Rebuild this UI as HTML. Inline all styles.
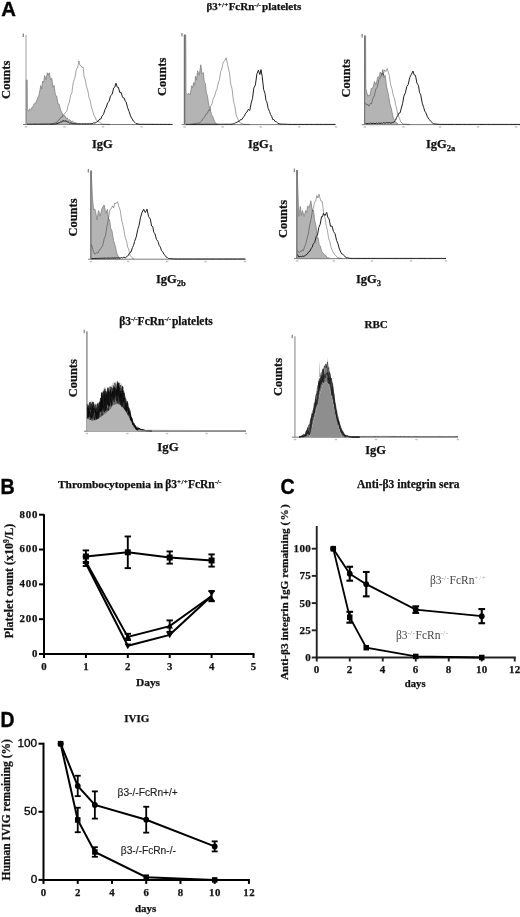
<!DOCTYPE html>
<html><head><meta charset="utf-8"><style>
html,body{margin:0;padding:0;background:#fff;}
svg{display:block;filter:blur(0.3px);}
</style></head><body>
<svg width="520" height="917" viewBox="0 0 520 917">
<rect width="520" height="917" fill="#fff"/>
<text transform="translate(1.3 15.6) scale(1.0 1)" x="0" y="0" font-family='"Liberation Sans", sans-serif' font-size="20.3" font-weight="bold" fill="#000" stroke="#000" stroke-width="0.4">A</text>
<text x="206.5" y="10.4" font-family='"Liberation Serif", serif' font-size="11" font-weight="bold" text-anchor="start" fill="#111" stroke="#111" stroke-width="0.25">β3<tspan font-size="7" dy="-3.8" letter-spacing="0.3">+/+</tspan><tspan dy="3.8">FcRn</tspan><tspan font-size="7" dy="-3.8">-/-</tspan><tspan dy="3.8" dx="1.2">platelets</tspan></text>
<line x1="26" y1="35" x2="26" y2="124.5" stroke="#c4c4c4" stroke-width="1.6"/>
<line x1="23" y1="124.5" x2="173" y2="124.5" stroke="#7a7a7a" stroke-width="1"/>
<rect x="24.8" y="126.1" width="2.4" height="1.4" fill="#c0c0c0"/>
<rect x="63.3" y="126.1" width="2.4" height="1.4" fill="#c0c0c0"/>
<rect x="101.8" y="126.1" width="2.4" height="1.4" fill="#c0c0c0"/>
<rect x="140.3" y="126.1" width="2.4" height="1.4" fill="#c0c0c0"/>
<rect x="22.7" y="33.5" width="1.3" height="3.5" fill="#888"/>
<path d="M26.30,124.50 L26.30,80.00 L27.20,80.00 L27.40,109.84 L28.43,111.23 L29.46,108.93 L30.65,109.88 L31.85,107.50 L33.09,106.62 L34.34,103.53 L35.90,102.86 L37.45,98.66 L39.10,94.88 L40.75,85.52 L41.70,89.10 L42.64,81.13 L43.65,82.38 L44.65,75.50 L46.01,79.51 L47.37,72.75 L48.33,75.21 L49.29,72.78 L50.54,79.67 L51.78,78.29 L52.92,87.21 L54.07,85.35 L55.43,95.17 L56.78,96.07 L57.92,103.80 L59.05,104.05 L60.55,109.99 L62.05,113.04 L63.48,116.14 L64.92,115.56 L66.07,118.44 L67.23,117.84 L68.49,120.42 L69.76,119.60 L71.18,121.53 L72.61,121.17 L74.30,122.78 L75.98,122.87 L77.41,123.91 L78.85,123.94 L79.89,124.26 L80.00,124.30 L80.00,124.5 L26.30,124.5 Z" fill="#b4b4b4" stroke="#777" stroke-width="0.7" stroke-linejoin="round"/>
<path d="M50.00,124.30 L51.00,124.19 L52.00,124.09 L52.96,123.92 L53.91,123.19 L54.93,123.28 L55.94,122.19 L56.91,122.49 L57.88,120.62 L59.43,119.64 L60.98,117.07 L62.17,117.05 L63.36,114.62 L64.41,114.19 L65.45,112.45 L66.82,111.14 L68.19,104.92 L69.39,102.17 L70.59,95.27 L71.90,92.79 L73.21,82.59 L74.83,78.21 L76.44,68.74 L77.65,67.93 L78.87,60.99 L79.83,64.96 L80.79,65.78 L81.96,67.44 L83.14,67.11 L84.13,76.90 L85.12,79.02 L86.50,86.44 L87.89,90.95 L89.09,97.69 L90.28,100.99 L91.55,107.45 L92.83,111.53 L94.01,115.40 L95.18,117.40 L96.11,120.04 L97.04,120.22 L98.37,122.04 L99.71,122.28 L101.29,123.61 L102.87,124.14 L104.07,124.23 L105.26,124.26 L106.31,124.29 L107.35,124.32 L108.86,124.37 L110.00,124.40" fill="none" stroke="rgba(0,0,0,0.45)" stroke-width="0.8" stroke-linejoin="round"/>
<path d="M27.00,124.20 L28.33,124.19 L29.65,124.18 L31.17,124.17 L32.69,124.16 L33.85,124.15 L35.02,124.14 L36.10,124.14 L37.19,124.13 L38.73,124.12 L40.27,124.11 L41.95,124.10 L43.63,124.09 L45.21,124.07 L46.78,124.06 L48.32,124.05 L49.86,124.04 L51.41,124.03 L52.96,124.02 L54.44,124.01 L55.93,124.00 L57.02,123.66 L58.10,123.11 L59.29,122.89 L60.48,122.01 L61.59,122.21 L62.70,120.62 L64.34,121.09 L65.98,120.86 L67.07,121.75 L68.15,121.89 L69.54,123.17 L70.94,122.90 L72.36,123.53 L73.78,123.63 L75.31,123.75 L76.85,123.80 L77.82,123.80 L78.80,123.80 L80.22,123.80 L81.65,123.80 L83.27,123.80 L84.89,123.80 L86.41,123.80 L87.93,123.80 L89.42,123.80 L90.92,123.59 L92.20,123.81 L93.49,122.89 L95.02,123.04 L96.55,122.17 L98.20,121.04 L99.85,119.00 L100.88,118.99 L101.91,116.23 L103.46,114.46 L105.02,109.59 L106.35,106.97 L107.69,102.71 L109.11,101.40 L110.53,95.78 L112.12,94.37 L113.71,87.92 L114.84,87.11 L115.98,83.21 L117.22,87.16 L118.46,87.42 L119.72,92.43 L120.99,92.28 L122.62,97.46 L124.24,98.12 L125.17,101.10 L126.09,101.78 L127.63,107.78 L129.16,111.64 L130.50,115.96 L131.85,118.42 L133.37,121.07 L134.89,122.33 L136.02,123.54 L137.14,123.76 L138.66,124.04 L140.17,124.30 L141.47,124.30 L142.78,124.31 L144.13,124.31 L145.48,124.32 L146.98,124.32 L148.48,124.33 L150.10,124.33 L151.72,124.34 L152.98,124.34 L154.24,124.34 L155.62,124.35 L157.01,124.35 L158.32,124.36 L159.62,124.36 L160.93,124.37 L162.24,124.37 L163.69,124.37 L165.14,124.38 L166.40,124.38 L167.67,124.39 L168.99,124.39 L170.32,124.39 L171.60,124.40 L172.00,124.40" fill="none" stroke="#1e1e1e" stroke-width="1.0" stroke-linejoin="round"/>
<text x="92" y="148" font-family='"Liberation Serif", serif' font-size="12.5" font-weight="bold" text-anchor="start" fill="#111" stroke="#111" stroke-width="0.25">IgG</text>
<text x="9.8" y="79.8" font-family='"Liberation Serif", serif' font-size="12.5" font-weight="bold" text-anchor="middle" fill="#111" transform="rotate(-90 9.8 79.8)" stroke="#111" stroke-width="0.25">Counts</text>
<line x1="184.6" y1="34.5" x2="184.6" y2="124.6" stroke="#6e6e6e" stroke-width="1.6"/>
<line x1="181.6" y1="124.6" x2="336" y2="124.6" stroke="#7a7a7a" stroke-width="1"/>
<rect x="183.4" y="126.19999999999999" width="2.4" height="1.4" fill="#c0c0c0"/>
<rect x="221.4" y="126.19999999999999" width="2.4" height="1.4" fill="#c0c0c0"/>
<rect x="259.5" y="126.19999999999999" width="2.4" height="1.4" fill="#c0c0c0"/>
<rect x="298.1" y="126.19999999999999" width="2.4" height="1.4" fill="#c0c0c0"/>
<rect x="334.8" y="126.19999999999999" width="2.4" height="1.4" fill="#c0c0c0"/>
<rect x="181.29999999999998" y="33.0" width="1.3" height="3.5" fill="#888"/>
<path d="M185.00,124.60 L185.00,35.00 L185.80,35.00 L186.00,92.55 L187.46,94.58 L188.91,93.30 L190.26,94.95 L191.60,85.77 L192.61,87.72 L193.61,82.48 L194.58,85.24 L195.55,76.26 L196.58,79.85 L197.61,70.80 L199.21,75.16 L200.81,64.80 L202.03,73.79 L203.25,72.51 L204.28,82.09 L205.32,83.21 L206.38,92.73 L207.44,95.96 L208.79,105.26 L210.13,108.65 L211.53,114.61 L212.92,117.01 L214.45,121.27 L215.97,123.74 L217.09,124.18 L218.00,124.50 L218.00,124.6 L185.00,124.6 Z" fill="#b4b4b4" stroke="#777" stroke-width="0.7" stroke-linejoin="round"/>
<path d="M190.00,124.40 L190.94,124.27 L191.88,124.14 L193.40,123.92 L194.92,123.71 L196.04,123.84 L197.16,123.07 L198.71,123.33 L200.26,122.31 L201.61,121.04 L202.97,118.83 L204.41,117.24 L205.86,114.37 L207.27,113.48 L208.67,110.19 L209.63,110.45 L210.59,106.39 L211.94,103.90 L213.28,98.30 L214.60,96.19 L215.92,91.23 L216.87,89.62 L217.82,84.74 L219.32,79.98 L220.82,71.25 L222.00,68.19 L223.18,62.17 L224.67,60.86 L226.15,57.80 L227.79,65.48 L229.43,72.70 L230.72,84.03 L232.02,88.68 L233.46,100.81 L234.91,106.88 L236.37,115.85 L237.83,118.67 L238.79,121.38 L239.74,122.30 L240.85,123.22 L241.96,123.68 L243.52,124.21 L245.09,124.26 L246.68,124.31 L248.27,124.35 L249.70,124.39 L250.00,124.40" fill="none" stroke="rgba(0,0,0,0.45)" stroke-width="0.8" stroke-linejoin="round"/>
<path d="M186.00,124.40 L187.13,124.40 L188.26,124.39 L189.36,124.39 L190.46,124.38 L191.60,124.38 L192.73,124.37 L194.00,124.37 L195.27,124.36 L196.30,124.36 L197.34,124.35 L198.60,124.35 L199.85,124.34 L200.97,124.34 L202.08,124.33 L203.74,124.32 L205.40,124.32 L207.07,124.31 L208.74,124.30 L210.08,124.30 L211.41,124.29 L212.52,124.29 L213.62,124.28 L215.28,124.27 L216.94,124.27 L218.09,124.26 L219.25,124.26 L220.43,124.25 L221.62,124.25 L222.53,124.24 L223.44,124.24 L224.65,124.23 L225.86,124.23 L227.14,124.22 L228.42,124.22 L229.72,124.21 L231.02,124.21 L232.09,124.20 L233.16,123.83 L234.46,123.45 L235.76,122.66 L236.99,122.24 L238.21,121.52 L239.30,121.36 L240.39,119.63 L241.81,119.61 L243.24,117.17 L244.40,116.22 L245.57,113.24 L246.98,112.04 L248.39,109.32 L249.79,110.42 L251.19,103.02 L252.51,98.32 L253.82,88.16 L255.38,84.94 L256.93,73.76 L258.38,70.27 L259.84,74.52 L261.03,69.62 L262.22,76.63 L263.62,89.36 L265.02,93.53 L265.93,100.27 L266.84,101.79 L268.17,108.37 L269.50,111.44 L270.60,114.63 L271.71,116.38 L272.78,119.65 L273.85,119.53 L275.06,121.49 L276.27,121.70 L277.66,123.02 L279.05,123.77 L280.08,124.03 L281.10,124.06 L282.21,124.11 L283.32,124.15 L284.81,124.20 L286.30,124.26 L287.44,124.30 L288.59,124.35 L289.94,124.40 L291.30,124.40 L292.22,124.40 L293.14,124.40 L294.09,124.40 L295.05,124.40 L296.17,124.40 L297.29,124.40 L298.72,124.40 L300.16,124.40 L301.61,124.40 L303.06,124.40 L304.49,124.40 L305.93,124.40 L307.07,124.40 L308.21,124.40 L309.52,124.40 L310.83,124.40 L312.10,124.40 L313.38,124.40 L314.65,124.40 L315.92,124.40 L316.93,124.40 L317.93,124.40 L319.54,124.40 L321.14,124.40 L322.21,124.40 L323.27,124.40 L324.95,124.40 L326.62,124.40 L328.26,124.40 L329.90,124.40 L330.82,124.40 L331.75,124.40 L333.02,124.40 L334.28,124.40 L335.00,124.40" fill="none" stroke="#1e1e1e" stroke-width="1.0" stroke-linejoin="round"/>
<text x="248" y="148" font-family='"Liberation Serif", serif' font-size="12.5" font-weight="bold" text-anchor="start" fill="#111" stroke="#111" stroke-width="0.25">IgG<tspan font-size="8.5" dy="3">1</tspan></text>
<text x="166.2" y="76.8" font-family='"Liberation Serif", serif' font-size="12.5" font-weight="bold" text-anchor="middle" fill="#111" transform="rotate(-90 166.2 76.8)" stroke="#111" stroke-width="0.25">Counts</text>
<line x1="364.8" y1="35.5" x2="364.8" y2="124.6" stroke="#6a6a6a" stroke-width="1.6"/>
<line x1="361.8" y1="124.6" x2="520" y2="124.6" stroke="#7a7a7a" stroke-width="1"/>
<rect x="363.6" y="126.19999999999999" width="2.4" height="1.4" fill="#c0c0c0"/>
<rect x="402.2" y="126.19999999999999" width="2.4" height="1.4" fill="#c0c0c0"/>
<rect x="438.8" y="126.19999999999999" width="2.4" height="1.4" fill="#c0c0c0"/>
<rect x="476.8" y="126.19999999999999" width="2.4" height="1.4" fill="#c0c0c0"/>
<rect x="514.8" y="126.19999999999999" width="2.4" height="1.4" fill="#c0c0c0"/>
<rect x="361.5" y="34.0" width="1.3" height="3.5" fill="#888"/>
<path d="M364.80,124.60 L364.80,36.00 L365.60,36.00 L365.80,88.50 L366.50,91.04 L367.76,96.23 L369.02,94.88 L370.10,95.44 L371.17,88.64 L372.82,87.85 L374.48,81.57 L376.08,84.63 L377.68,76.97 L378.97,77.20 L380.26,72.10 L381.52,74.44 L382.78,69.45 L383.94,77.83 L385.09,75.10 L386.66,87.00 L388.22,93.71 L389.84,103.54 L391.45,109.01 L393.14,117.28 L394.83,120.80 L395.95,122.57 L397.08,123.04 L398.00,124.30 L398.00,124.6 L364.80,124.6 Z" fill="#b4b4b4" stroke="#777" stroke-width="0.7" stroke-linejoin="round"/>
<path d="M365.50,102.66 L366.60,105.21 L367.71,104.28 L368.91,106.22 L370.11,103.55 L371.51,103.72 L372.92,98.46 L374.39,95.54 L375.86,89.05 L377.36,86.94 L378.85,79.69 L380.49,77.78 L382.12,73.02 L383.26,75.51 L384.40,69.88 L385.82,71.61 L387.25,68.53 L388.29,72.05 L389.33,75.69 L390.62,84.69 L391.92,88.61 L393.18,94.91 L394.44,98.63 L395.62,104.57 L396.80,109.45 L398.15,115.56 L399.51,118.27 L400.74,121.81 L401.97,123.00 L402.93,124.02 L403.89,124.07 L405.02,124.13 L406.14,124.19 L407.81,124.28 L409.47,124.37 L410.00,124.40" fill="none" stroke="rgba(0,0,0,0.45)" stroke-width="0.8" stroke-linejoin="round"/>
<path d="M365.50,123.32 L366.90,123.68 L368.30,123.34 L369.41,123.74 L370.51,123.05 L372.08,123.47 L373.65,123.32 L375.12,123.68 L376.58,123.06 L377.49,123.87 L378.40,122.94 L379.98,123.46 L381.56,123.02 L382.59,123.47 L383.62,122.54 L385.09,123.32 L386.56,122.46 L387.90,123.03 L389.24,122.57 L390.87,123.15 L392.50,122.59 L393.60,122.41 L394.71,120.97 L395.68,120.03 L396.64,117.27 L397.72,115.72 L398.81,113.25 L400.08,112.82 L401.35,108.06 L402.63,103.37 L403.91,96.08 L405.37,92.84 L406.83,86.45 L408.26,84.34 L409.70,77.58 L411.33,74.36 L412.96,71.02 L414.20,74.93 L415.44,75.36 L416.93,83.07 L418.41,85.34 L419.57,92.68 L420.72,94.77 L422.22,103.10 L423.73,107.62 L424.78,111.16 L425.84,112.74 L427.49,116.88 L429.14,119.27 L430.81,121.41 L432.48,122.88 L433.69,123.83 L434.91,123.94 L436.52,124.08 L438.13,124.23 L439.73,124.38 L441.33,124.40 L442.81,124.40 L444.29,124.40 L445.98,124.40 L447.67,124.40 L449.31,124.40 L450.94,124.40 L452.11,124.40 L453.28,124.40 L454.33,124.40 L455.39,124.40 L457.03,124.40 L458.67,124.40 L460.16,124.40 L461.65,124.40 L462.59,124.40 L463.52,124.40 L464.95,124.40 L466.38,124.40 L467.58,124.40 L468.79,124.40 L469.99,124.40 L471.19,124.40 L472.36,124.40 L473.53,124.40 L474.57,124.40 L475.61,124.40 L476.52,124.40 L477.44,124.40 L478.56,124.40 L479.69,124.40 L480.88,124.40 L482.06,124.40 L483.72,124.40 L485.37,124.40 L486.38,124.40 L487.38,124.40 L489.05,124.40 L490.71,124.40 L491.78,124.40 L492.85,124.40 L494.04,124.40 L495.23,124.40 L496.78,124.40 L498.33,124.40 L499.88,124.40 L501.43,124.40 L502.68,124.40 L503.93,124.40 L504.88,124.40 L505.82,124.40 L507.10,124.40 L508.38,124.40 L509.58,124.40 L510.78,124.40 L512.41,124.40 L514.04,124.40 L515.10,124.40 L516.16,124.40 L517.35,124.40 L518.55,124.40 L520.00,124.40" fill="none" stroke="#1e1e1e" stroke-width="1.0" stroke-linejoin="round"/>
<text x="426" y="148" font-family='"Liberation Serif", serif' font-size="12.5" font-weight="bold" text-anchor="start" fill="#111" stroke="#111" stroke-width="0.25">IgG<tspan font-size="8.5" dy="3">2a</tspan></text>
<text x="350" y="78.3" font-family='"Liberation Serif", serif' font-size="12.5" font-weight="bold" text-anchor="middle" fill="#111" transform="rotate(-90 350 78.3)" stroke="#111" stroke-width="0.25">Counts</text>
<line x1="91" y1="170.4" x2="91" y2="259.2" stroke="#6e6e6e" stroke-width="1.6"/>
<line x1="88" y1="259.2" x2="246" y2="259.2" stroke="#7a7a7a" stroke-width="1"/>
<rect x="89.8" y="260.8" width="2.4" height="1.4" fill="#c0c0c0"/>
<rect x="127.10000000000001" y="260.8" width="2.4" height="1.4" fill="#c0c0c0"/>
<rect x="166.0" y="260.8" width="2.4" height="1.4" fill="#c0c0c0"/>
<rect x="204.3" y="260.8" width="2.4" height="1.4" fill="#c0c0c0"/>
<rect x="243.8" y="260.8" width="2.4" height="1.4" fill="#c0c0c0"/>
<rect x="87.7" y="168.9" width="1.3" height="3.5" fill="#888"/>
<path d="M91.20,259.20 L91.20,170.99 L92.43,197.31 L93.66,210.11 L94.60,208.92 L95.54,211.21 L97.03,219.87 L98.52,210.45 L100.18,216.20 L101.83,209.12 L102.99,206.62 L104.15,205.04 L105.77,213.34 L107.40,209.35 L108.49,218.94 L109.58,219.60 L110.79,228.43 L112.01,231.05 L113.64,240.64 L115.27,246.02 L116.83,253.40 L118.38,256.52 L119.54,258.34 L120.00,259.00 L120.00,259.2 L91.20,259.2 Z" fill="#b4b4b4" stroke="#777" stroke-width="0.7" stroke-linejoin="round"/>
<path d="M91.50,244.67 L93.02,250.00 L94.54,254.00 L95.64,253.73 L96.75,252.63 L97.91,253.15 L99.07,250.27 L100.19,249.54 L101.31,247.59 L102.77,245.46 L104.23,238.57 L105.63,235.17 L107.02,226.10 L108.45,218.76 L109.88,209.59 L111.23,208.74 L112.58,205.83 L113.69,207.84 L114.79,203.20 L116.15,203.51 L117.51,201.71 L118.82,206.40 L120.12,209.94 L121.81,220.68 L123.49,227.70 L125.05,236.85 L126.62,241.47 L127.62,246.65 L128.63,249.18 L130.26,255.58 L131.90,257.48 L133.01,258.36 L134.00,259.00" fill="none" stroke="rgba(0,0,0,0.45)" stroke-width="0.8" stroke-linejoin="round"/>
<path d="M91.50,258.60 L93.02,258.55 L94.53,258.50 L96.18,258.45 L97.83,258.40 L98.82,258.37 L99.81,258.34 L101.19,258.30 L102.56,258.25 L103.96,258.21 L105.35,258.09 L106.55,258.28 L107.75,258.00 L109.12,258.24 L110.50,258.00 L111.67,258.15 L112.83,257.82 L113.90,258.31 L114.97,257.84 L115.96,258.22 L116.95,257.57 L117.93,258.23 L118.91,257.59 L120.04,258.34 L121.17,257.56 L122.52,257.94 L123.87,257.27 L125.56,257.72 L127.25,256.16 L128.32,255.52 L129.39,253.18 L130.94,252.01 L132.49,247.59 L133.52,245.48 L134.56,241.60 L136.18,237.07 L137.80,229.32 L139.10,225.26 L140.41,217.83 L142.04,212.34 L143.67,209.27 L145.33,212.55 L147.00,209.16 L148.67,216.74 L150.34,218.99 L151.55,225.95 L152.77,226.65 L153.80,232.54 L154.84,233.33 L156.41,239.23 L157.98,241.55 L159.20,245.44 L160.42,247.17 L161.52,250.75 L162.63,251.58 L163.97,254.42 L165.32,255.58 L166.32,257.29 L167.33,257.54 L168.48,258.44 L169.62,258.54 L170.86,258.65 L172.10,258.75 L173.46,258.87 L174.83,258.99 L176.07,259.00 L177.31,259.00 L178.74,259.00 L180.16,259.00 L181.42,259.00 L182.68,259.00 L183.93,259.00 L185.18,259.00 L186.11,259.00 L187.04,259.00 L188.43,259.00 L189.82,259.00 L191.11,259.00 L192.41,259.00 L193.50,259.00 L194.59,259.00 L196.10,259.00 L197.60,259.00 L199.12,259.00 L200.64,259.00 L201.91,259.00 L203.18,259.00 L204.23,259.00 L205.28,259.00 L206.56,259.00 L207.83,259.00 L208.83,259.00 L209.82,259.00 L210.83,259.00 L211.84,259.00 L213.09,259.00 L214.33,259.00 L215.32,259.00 L216.30,259.00 L217.55,259.00 L218.81,259.00 L220.11,259.00 L221.42,259.00 L222.36,259.00 L223.31,259.00 L224.71,259.00 L226.12,259.00 L227.09,259.00 L228.07,259.00 L229.55,259.00 L231.03,259.00 L232.55,259.00 L234.06,259.00 L235.37,259.00 L236.68,259.00 L237.63,259.00 L238.59,259.00 L239.89,259.00 L241.19,259.00 L242.40,259.00 L243.60,259.00 L245.00,259.00" fill="none" stroke="#1e1e1e" stroke-width="1.0" stroke-linejoin="round"/>
<text x="156" y="283" font-family='"Liberation Serif", serif' font-size="12.5" font-weight="bold" text-anchor="start" fill="#111" stroke="#111" stroke-width="0.25">IgG<tspan font-size="8.5" dy="3">2b</tspan></text>
<text x="77.3" y="217.5" font-family='"Liberation Serif", serif' font-size="12.5" font-weight="bold" text-anchor="middle" fill="#111" transform="rotate(-90 77.3 217.5)" stroke="#111" stroke-width="0.25">Counts</text>
<line x1="297" y1="170" x2="297" y2="258.6" stroke="#6e6e6e" stroke-width="1.6"/>
<line x1="294" y1="258.6" x2="446" y2="258.6" stroke="#7a7a7a" stroke-width="1"/>
<rect x="295.8" y="260.20000000000005" width="2.4" height="1.4" fill="#c0c0c0"/>
<rect x="332.6" y="260.20000000000005" width="2.4" height="1.4" fill="#c0c0c0"/>
<rect x="370.8" y="260.20000000000005" width="2.4" height="1.4" fill="#c0c0c0"/>
<rect x="409.8" y="260.20000000000005" width="2.4" height="1.4" fill="#c0c0c0"/>
<rect x="444.8" y="260.20000000000005" width="2.4" height="1.4" fill="#c0c0c0"/>
<rect x="293.7" y="168.5" width="1.3" height="3.5" fill="#888"/>
<path d="M297.20,258.60 L297.20,170.43 L298.78,216.37 L300.36,206.39 L301.42,215.47 L302.48,210.57 L304.10,216.43 L305.73,210.36 L306.69,212.71 L307.65,206.09 L309.26,207.41 L310.87,200.83 L312.17,210.35 L313.47,210.14 L314.78,220.93 L316.08,226.32 L317.12,237.24 L318.15,237.70 L319.20,244.93 L320.24,245.86 L321.64,251.67 L323.05,252.78 L324.41,255.03 L325.77,255.30 L327.18,257.85 L328.58,257.79 L329.69,258.35 L330.00,258.50 L330.00,258.6 L297.20,258.6 Z" fill="#b4b4b4" stroke="#777" stroke-width="0.7" stroke-linejoin="round"/>
<path d="M297.50,250.44 L298.86,252.75 L300.22,251.45 L301.27,251.44 L302.32,249.90 L303.42,250.59 L304.53,246.82 L305.96,243.45 L307.39,237.38 L308.41,233.72 L309.44,226.23 L311.05,219.23 L312.66,209.73 L313.58,207.10 L314.51,202.28 L315.70,201.05 L316.89,195.52 L317.96,198.02 L319.03,194.21 L320.67,200.55 L322.31,201.52 L323.72,214.27 L325.12,218.27 L326.24,225.72 L327.36,230.26 L328.54,237.82 L329.72,241.38 L331.21,247.73 L332.69,251.32 L334.01,253.85 L335.34,254.96 L336.85,257.11 L338.37,257.81 L340.02,258.08 L341.66,258.34 L342.00,258.40" fill="none" stroke="rgba(0,0,0,0.45)" stroke-width="0.8" stroke-linejoin="round"/>
<path d="M297.50,254.53 L298.88,257.05 L300.27,256.43 L301.31,256.72 L302.36,256.17 L303.96,256.39 L305.57,255.23 L307.14,254.27 L308.71,251.83 L309.97,251.18 L311.23,248.23 L312.17,247.38 L313.11,244.26 L314.68,242.52 L316.25,236.40 L317.50,234.96 L318.75,227.53 L320.16,224.38 L321.57,216.53 L322.49,216.71 L323.42,213.23 L325.06,215.56 L326.71,212.40 L327.88,217.66 L329.04,218.57 L330.49,226.32 L331.94,226.04 L333.51,231.53 L335.07,233.78 L336.55,240.31 L338.02,243.90 L339.42,249.00 L340.82,252.26 L341.75,253.98 L342.68,254.09 L343.70,255.37 L344.72,256.05 L346.12,257.75 L347.53,257.65 L348.49,257.94 L349.45,258.23 L350.82,258.40 L352.19,258.40 L353.38,258.40 L354.58,258.40 L356.13,258.40 L357.67,258.40 L359.22,258.40 L360.77,258.40 L362.38,258.40 L363.98,258.40 L364.94,258.40 L365.91,258.40 L367.49,258.40 L369.08,258.40 L370.70,258.40 L372.33,258.40 L373.97,258.40 L375.62,258.40 L376.61,258.40 L377.61,258.40 L378.68,258.40 L379.75,258.40 L380.74,258.40 L381.74,258.40 L382.68,258.40 L383.61,258.40 L385.19,258.40 L386.76,258.40 L388.30,258.40 L389.84,258.40 L391.25,258.40 L392.65,258.40 L394.21,258.40 L395.76,258.40 L397.16,258.40 L398.57,258.40 L399.70,258.40 L400.83,258.40 L401.82,258.40 L402.81,258.40 L403.80,258.40 L404.78,258.40 L406.28,258.40 L407.78,258.40 L408.85,258.40 L409.92,258.40 L411.08,258.40 L412.24,258.40 L413.48,258.40 L414.72,258.40 L415.65,258.40 L416.58,258.40 L417.69,258.40 L418.80,258.40 L419.93,258.40 L421.06,258.40 L422.52,258.40 L423.99,258.40 L425.19,258.40 L426.39,258.40 L427.55,258.40 L428.71,258.40 L430.37,258.40 L432.03,258.40 L433.33,258.40 L434.64,258.40 L436.21,258.40 L437.79,258.40 L439.18,258.40 L440.57,258.40 L441.50,258.40 L442.44,258.40 L443.67,258.40 L444.90,258.40 L446.00,258.40" fill="none" stroke="#1e1e1e" stroke-width="1.0" stroke-linejoin="round"/>
<text x="356" y="283" font-family='"Liberation Serif", serif' font-size="12.5" font-weight="bold" text-anchor="start" fill="#111" stroke="#111" stroke-width="0.25">IgG<tspan font-size="8.5" dy="3">3</tspan></text>
<text x="286.5" y="219" font-family='"Liberation Serif", serif' font-size="12.5" font-weight="bold" text-anchor="middle" fill="#111" transform="rotate(-90 286.5 219)" stroke="#111" stroke-width="0.25">Counts</text>
<text x="119.2" y="325" font-family='"Liberation Serif", serif' font-size="11.5" font-weight="bold" text-anchor="start" fill="#111" stroke="#111" stroke-width="0.25">β3<tspan font-size="7" dy="-3.8">-/-</tspan><tspan dy="3.8">FcRn</tspan><tspan font-size="7" dy="-3.8">-/-</tspan><tspan dy="3.8" dx="0.8">platelets</tspan></text>
<line x1="86.9" y1="331.2" x2="86.9" y2="431.2" stroke="#9a9a9a" stroke-width="1.6"/>
<line x1="83.9" y1="431.2" x2="246" y2="431.2" stroke="#7a7a7a" stroke-width="1"/>
<rect x="85.7" y="432.8" width="2.4" height="1.4" fill="#c0c0c0"/>
<rect x="126.2" y="432.8" width="2.4" height="1.4" fill="#c0c0c0"/>
<rect x="165.8" y="432.8" width="2.4" height="1.4" fill="#c0c0c0"/>
<rect x="205.3" y="432.8" width="2.4" height="1.4" fill="#c0c0c0"/>
<rect x="244.8" y="432.8" width="2.4" height="1.4" fill="#c0c0c0"/>
<rect x="83.60000000000001" y="329.7" width="1.3" height="3.5" fill="#888"/>
<path d="M87.30,431.20 L87.30,419.00 L92.00,421.00 L96.50,420.00 L100.00,418.00 L105.00,414.00 L110.00,410.00 L113.00,405.50 L117.00,404.00 L120.00,405.00 L124.00,409.00 L128.00,416.00 L132.00,423.50 L135.00,429.00 L138.00,431.00 L138.00,431.20 L138.00,431.2 L87.30,431.2 Z" fill="#b4b4b4" stroke="none" stroke-width="0.7" stroke-linejoin="round"/>
<path d="M87.30,401.88 L87.89,410.62 L88.48,402.42 L89.27,407.93 L90.06,401.67 L90.52,407.70 L90.97,399.49 L91.43,407.83 L91.89,399.39 L92.41,407.37 L92.94,400.01 L93.50,410.16 L94.05,402.19 L94.78,408.15 L95.51,402.47 L96.00,412.39 L96.48,402.93 L97.18,408.88 L97.88,401.95 L98.69,407.49 L99.49,400.62 L100.02,406.84 L100.56,396.42 L101.16,403.94 L101.76,391.05 L102.43,400.77 L103.09,387.62 L103.68,394.69 L104.27,386.27 L104.98,397.02 L105.70,386.38 L106.45,395.48 L107.21,386.33 L108.01,393.09 L108.81,386.67 L109.54,397.27 L110.27,385.57 L110.82,393.08 L111.37,384.11 L111.96,392.23 L112.54,381.38 L113.03,394.76 L113.53,381.55 L114.37,395.11 L115.21,380.75 L115.74,391.15 L116.27,381.07 L116.87,386.92 L117.48,379.84 L118.21,391.79 L118.93,380.53 L119.44,392.17 L119.95,380.67 L120.76,392.12 L121.57,381.90 L122.19,392.33 L122.81,384.61 L123.57,400.28 L124.32,390.01 L125.03,400.61 L125.73,394.67 L126.23,405.30 L126.72,397.66 L127.42,406.42 L128.12,402.85 L128.82,412.32 L129.52,406.86 L130.04,417.31 L130.57,411.77 L131.21,419.01 L131.86,416.00 L132.38,424.85 L132.90,419.70 L133.39,425.31 L133.88,421.23 L134.54,428.27 L135.19,424.21 L135.81,428.37 L136.42,425.46 L137.03,428.52 L137.64,425.59 L138.23,429.26 L138.83,427.57 L139.29,430.54 L139.75,427.52 L140.34,430.37 L140.93,427.97 L141.75,430.74 L142.58,428.24 L143.18,430.65 L143.79,430.21 L144.55,430.39 L145.31,430.52 L146.08,430.56 L146.85,430.61 L147.55,430.65 L148.25,430.69 L148.89,430.72 L149.53,430.76 L150.20,430.80 L150.88,430.84 L151.42,430.87 L151.96,430.90 L152.00,430.90 L152.00,430.90 L151.96,430.90 L151.42,430.87 L150.88,430.84 L150.20,430.80 L149.53,430.76 L148.89,430.72 L148.25,430.69 L147.55,430.65 L146.85,430.61 L146.08,430.56 L145.31,430.52 L144.55,430.39 L143.79,430.21 L143.18,430.65 L142.58,428.24 L141.75,430.74 L140.93,427.97 L140.34,430.37 L139.75,427.52 L139.29,430.54 L138.83,427.57 L138.23,429.26 L137.64,430.76 L137.03,430.35 L136.42,429.95 L135.81,429.54 L135.19,429.13 L134.54,428.27 L133.88,426.96 L133.39,426.05 L132.90,425.14 L132.38,424.85 L131.86,423.24 L131.21,422.03 L130.57,420.82 L130.04,419.83 L129.52,418.84 L128.82,417.53 L128.12,416.23 L127.42,414.99 L126.72,413.76 L126.23,412.90 L125.73,412.03 L125.03,410.80 L124.32,409.57 L123.57,408.57 L122.81,407.81 L122.19,407.19 L121.57,406.57 L120.76,405.76 L119.95,404.98 L119.44,404.81 L118.93,404.64 L118.21,404.40 L117.48,404.16 L116.87,404.05 L116.27,404.27 L115.74,404.47 L115.21,404.67 L114.37,404.99 L113.53,405.30 L113.03,405.49 L112.54,406.19 L111.96,407.07 L111.37,407.94 L110.82,408.77 L110.27,409.60 L109.54,410.37 L108.81,410.95 L108.01,411.59 L107.21,412.23 L106.45,412.84 L105.70,413.44 L104.98,414.01 L104.27,414.58 L103.68,415.06 L103.09,415.53 L102.43,416.06 L101.76,416.59 L101.16,417.07 L100.56,417.55 L100.02,417.98 L99.49,418.29 L98.69,418.75 L97.88,419.21 L97.18,419.61 L96.48,420.00 L96.00,420.11 L95.51,420.22 L94.78,420.38 L94.05,420.54 L93.50,420.67 L92.94,420.79 L92.41,420.91 L91.89,420.95 L91.43,420.76 L90.97,420.56 L90.52,420.37 L90.06,420.18 L89.27,419.84 L88.48,419.50 L87.89,419.25 L87.30,419.00 Z" fill="#6a6a6a" stroke="none"/>
<path d="M87.30,408.97 L88.19,416.41 L89.19,410.60 L89.86,411.98 L90.42,417.25 L91.13,417.77 L91.78,408.56 L92.42,409.68 L93.02,401.87 L93.96,407.63 L94.60,408.31 L95.38,410.80 L96.27,414.72 L96.98,418.60 L98.01,403.56 L99.02,416.93 L100.00,402.52 L101.02,409.20 L101.50,393.47 L102.59,406.79 L103.23,391.55 L103.81,394.61 L104.78,396.83 L105.36,411.18 L106.35,391.60 L107.40,402.38 L108.38,403.34 L109.43,405.49 L110.45,390.33 L111.37,396.92 L112.32,393.42 L113.37,395.16 L114.02,387.53 L114.59,393.25 L115.10,392.45 L115.68,392.80 L116.48,393.75 L117.51,381.65 L118.53,392.27 L119.37,397.09 L120.38,391.12 L121.13,405.23 L121.66,398.27 L122.55,386.23 L123.42,402.08 L124.49,397.90 L125.60,403.86 L126.39,411.64 L126.89,410.02 L127.77,406.98 L128.81,410.38 L129.59,414.28 L130.56,414.30 L131.32,418.19 L132.16,422.81 L132.82,424.24 L133.56,424.25 L134.22,425.50 L135.32,427.95 L136.31,427.83 L136.99,428.17 L137.84,429.76 L138.83,428.41 L139.77,429.00 L140.60,429.45 L141.27,429.61 L141.87,429.75 L142.74,429.96 L143.73,430.20 L144.60,430.40 L145.48,430.53 L146.34,430.58 L146.96,430.61 L147.73,430.66 L148.27,430.69 L148.78,430.72 L149.84,430.78 L150.56,430.82 L151.54,430.87" fill="none" stroke="#0a0a0a" stroke-width="0.65" opacity="0.85" stroke-linejoin="round"/>
<path d="M87.30,408.18 L88.05,408.27 L88.81,413.57 L89.88,403.11 L90.73,402.42 L91.28,417.03 L92.13,419.35 L92.90,401.99 L93.62,413.16 L94.70,420.07 L95.49,410.57 L96.03,414.46 L96.65,406.76 L97.14,403.84 L98.06,404.57 L99.16,402.64 L100.19,401.54 L100.68,411.69 L101.32,410.84 L101.92,392.58 L102.89,408.08 L103.92,407.69 L104.46,404.58 L105.39,399.45 L106.47,393.79 L107.56,404.98 L108.05,387.66 L108.95,406.54 L109.48,394.24 L110.42,389.62 L111.46,395.75 L111.97,392.25 L112.82,392.79 L113.74,385.60 L114.73,390.21 L115.62,395.99 L116.37,390.27 L117.35,402.87 L118.33,394.50 L119.00,382.90 L120.10,398.35 L121.11,390.75 L121.98,406.46 L122.99,399.64 L123.67,397.59 L124.72,399.33 L125.64,405.42 L126.69,410.89 L127.35,401.20 L128.00,408.70 L128.85,415.55 L129.90,410.59 L130.92,420.02 L131.95,420.86 L132.61,423.89 L133.60,425.09 L134.67,425.70 L135.20,427.43 L136.19,427.36 L137.15,430.22 L137.78,429.63 L138.70,428.33 L139.31,428.71 L140.27,429.32 L141.04,429.55 L142.04,429.79 L142.67,429.94 L143.72,430.19 L144.54,430.39 L145.39,430.52 L146.00,430.56 L146.92,430.61 L147.77,430.66 L148.58,430.70 L149.09,430.73 L149.80,430.77 L150.69,430.83 L151.27,430.86 L151.97,430.90" fill="none" stroke="#0a0a0a" stroke-width="0.65" opacity="0.85" stroke-linejoin="round"/>
<path d="M87.30,404.02 L88.41,417.26 L89.21,412.31 L89.85,416.12 L90.61,419.41 L91.58,417.27 L92.67,406.44 L93.18,405.72 L93.77,403.94 L94.29,412.67 L95.32,411.27 L96.41,418.62 L96.93,413.44 L97.66,405.02 L98.76,406.02 L99.60,411.87 L100.69,410.65 L101.42,404.01 L102.01,415.52 L103.12,394.84 L103.62,395.34 L104.33,411.95 L105.39,409.39 L105.90,407.73 L106.83,403.62 L107.94,388.66 L108.52,405.33 L109.60,402.71 L110.27,399.91 L111.23,387.11 L111.92,389.74 L112.48,394.20 L113.07,388.01 L113.64,397.86 L114.13,398.58 L114.73,382.69 L115.81,386.56 L116.88,401.04 L117.93,384.69 L118.70,383.74 L119.77,401.32 L120.66,393.12 L121.35,402.28 L122.14,398.63 L122.71,390.92 L123.23,402.39 L124.06,393.25 L125.10,398.48 L125.84,398.81 L126.50,410.97 L127.19,403.00 L127.98,407.34 L129.04,408.35 L130.15,411.59 L131.20,419.62 L131.82,419.93 L132.48,420.62 L133.09,422.75 L134.20,427.53 L135.27,425.83 L135.94,429.31 L136.46,429.13 L137.12,430.35 L137.61,430.15 L138.31,428.08 L138.79,428.39 L139.61,428.90 L140.37,429.38 L140.99,429.54 L141.56,429.68 L142.53,429.91 L143.14,430.05 L143.67,430.18 L144.47,430.37 L145.08,430.50 L146.01,430.56 L146.87,430.61 L147.39,430.64 L148.13,430.68 L148.65,430.71 L149.34,430.75 L150.37,430.81 L150.86,430.84 L151.65,430.88" fill="none" stroke="#0a0a0a" stroke-width="0.65" opacity="0.85" stroke-linejoin="round"/>
<path d="M87.30,406.38 L88.31,409.01 L88.90,408.97 L89.76,402.28 L90.57,410.07 L91.38,403.67 L92.32,417.32 L93.35,408.06 L94.29,409.57 L95.25,404.62 L96.29,419.33 L97.08,411.96 L97.90,411.59 L98.40,418.37 L99.02,404.44 L99.56,405.00 L100.57,398.04 L101.11,410.45 L101.71,392.68 L102.58,404.69 L103.39,407.39 L103.94,411.39 L104.88,388.76 L105.44,400.31 L106.24,394.49 L106.79,397.55 L107.36,401.98 L108.39,390.83 L109.24,404.69 L109.82,406.02 L110.91,394.23 L111.65,403.76 L112.47,392.22 L113.55,400.17 L114.25,387.58 L114.94,391.79 L116.05,399.88 L117.12,399.87 L118.14,382.73 L118.95,403.67 L120.03,387.96 L120.78,397.36 L121.49,395.66 L122.02,393.88 L122.82,386.93 L123.39,407.78 L124.36,408.50 L125.25,407.99 L126.30,411.26 L126.80,408.70 L127.45,410.68 L128.10,410.50 L129.17,414.18 L129.82,414.84 L130.57,420.42 L131.24,417.12 L132.13,418.77 L132.99,425.13 L133.80,423.71 L134.58,426.30 L135.15,425.71 L135.72,427.26 L136.46,427.80 L137.09,427.59 L137.92,430.45 L138.79,428.39 L139.69,428.95 L140.62,429.45 L141.46,429.65 L142.24,429.84 L142.87,429.99 L143.68,430.18 L144.53,430.39 L145.24,430.51 L145.87,430.55 L146.67,430.60 L147.78,430.66 L148.75,430.71 L149.28,430.74 L150.04,430.79 L150.77,430.83 L151.72,430.88" fill="none" stroke="#0a0a0a" stroke-width="0.65" opacity="0.85" stroke-linejoin="round"/>
<path d="M87.30,418.37 L88.25,405.53 L88.95,408.64 L89.86,413.20 L90.88,417.14 L91.70,415.72 L92.65,416.21 L93.44,416.70 L94.37,418.97 L94.93,418.15 L95.41,416.37 L96.27,412.20 L97.36,412.64 L98.11,415.49 L99.15,411.67 L99.87,408.26 L100.65,411.83 L101.31,403.00 L102.15,400.28 L102.84,410.08 L103.86,401.63 L104.62,392.65 L105.30,391.14 L106.15,402.29 L106.68,410.63 L107.37,408.22 L108.39,410.30 L109.00,397.32 L110.06,386.42 L110.57,398.86 L111.37,406.07 L112.34,395.72 L113.46,394.26 L114.27,397.79 L115.00,389.98 L115.86,389.55 L116.95,396.73 L117.77,383.75 L118.49,390.72 L119.33,394.97 L120.37,404.56 L121.16,393.28 L122.04,406.95 L122.74,397.63 L123.74,392.80 L124.42,409.36 L125.43,403.48 L125.98,410.82 L126.91,411.51 L128.02,414.63 L128.77,407.90 L129.43,413.72 L130.24,413.05 L130.83,418.43 L131.70,418.82 L132.82,423.36 L133.32,423.40 L134.31,424.84 L135.23,425.39 L135.90,429.12 L136.76,429.15 L137.37,429.03 L138.20,428.01 L139.09,428.58 L140.21,429.28 L140.95,429.53 L141.54,429.67 L142.08,429.80 L142.67,429.94 L143.68,430.18 L144.68,430.42 L145.16,430.51 L145.85,430.55 L146.56,430.59 L147.21,430.63 L148.27,430.69 L148.97,430.73 L149.70,430.77 L150.75,430.83 L151.84,430.89" fill="none" stroke="#0a0a0a" stroke-width="0.65" opacity="0.85" stroke-linejoin="round"/>
<path d="M87.30,407.36 L87.81,418.11 L88.84,408.03 L89.89,416.79 L90.56,412.99 L91.66,410.93 L92.75,406.27 L93.48,415.47 L94.10,408.20 L95.14,411.64 L96.13,408.14 L96.72,409.89 L97.32,419.08 L97.98,411.92 L98.54,410.95 L99.26,408.01 L99.78,402.48 L100.79,403.77 L101.43,397.99 L102.09,396.66 L102.59,407.01 L103.29,392.95 L104.22,390.53 L104.88,409.72 L105.44,398.98 L106.45,407.86 L107.04,396.15 L107.98,396.47 L109.07,392.18 L110.16,398.01 L110.79,395.90 L111.35,401.08 L112.00,404.66 L112.85,391.13 L113.49,396.33 L114.11,402.15 L114.66,393.68 L115.49,387.77 L116.47,390.24 L117.37,394.34 L118.04,390.41 L118.58,385.58 L119.60,389.32 L120.51,385.15 L121.35,391.63 L122.15,391.08 L122.67,392.75 L123.30,390.61 L124.23,396.30 L124.97,409.14 L125.95,410.57 L126.98,401.87 L127.64,402.49 L128.55,413.11 L129.26,412.20 L130.16,417.36 L130.80,420.04 L131.50,420.09 L132.10,418.64 L133.16,424.49 L134.10,423.33 L134.60,424.82 L135.21,426.49 L135.94,426.70 L136.61,428.97 L137.21,429.98 L138.05,427.92 L138.70,428.33 L139.62,428.91 L140.10,429.21 L141.07,429.56 L141.58,429.68 L142.45,429.89 L143.09,430.04 L144.07,430.28 L145.14,430.51 L145.67,430.54 L146.40,430.58 L147.41,430.64 L147.95,430.67 L148.70,430.71 L149.63,430.76 L150.64,430.82 L151.41,430.87" fill="none" stroke="#0a0a0a" stroke-width="0.65" opacity="0.85" stroke-linejoin="round"/>
<line x1="138" y1="431.0" x2="246" y2="431.0" stroke="#777" stroke-width="1"/>
<path d="M136.00,430.50 L137.20,430.47 L138.39,430.45 L139.65,430.42 L140.91,430.39 L142.48,430.36 L144.05,430.33 L145.02,430.31 L145.99,430.29 L147.44,430.25 L148.89,430.22 L149.79,430.20 L150.70,430.21 L152.10,430.22 L153.51,430.24 L154.99,430.25 L156.47,430.26 L157.54,430.28 L158.61,430.29 L159.89,430.30 L161.18,430.31 L162.78,430.33 L164.38,430.34 L165.73,430.36 L167.09,430.37 L168.37,430.38 L169.65,430.40 L170.72,430.40 L171.78,430.41 L172.70,430.41 L173.62,430.41 L174.76,430.42 L175.90,430.42 L177.09,430.42 L178.27,430.43 L179.30,430.43 L180.32,430.43 L181.43,430.44 L182.54,430.44 L183.52,430.45 L184.49,430.45 L185.90,430.45 L187.30,430.46 L188.68,430.46 L190.06,430.47 L191.11,430.47 L192.17,430.47 L193.22,430.48 L194.28,430.48 L195.54,430.49 L196.80,430.49 L198.01,430.49 L199.22,430.50 L200.80,430.50 L202.37,430.50 L203.51,430.50 L204.65,430.50 L205.75,430.50 L206.85,430.50 L208.39,430.50 L209.93,430.50 L210.91,430.50 L211.89,430.50 L213.19,430.50 L214.48,430.50 L215.61,430.50 L216.73,430.50 L218.22,430.50 L219.71,430.50 L220.99,430.50 L222.28,430.50 L223.73,430.50 L225.17,430.50 L226.17,430.50 L227.17,430.50 L228.55,430.50 L229.92,430.50 L231.25,430.50 L232.57,430.50 L233.79,430.50 L235.01,430.50 L236.46,430.50 L237.91,430.50 L239.41,430.50 L240.91,430.50 L241.87,430.50 L242.83,430.50 L243.92,430.50 L245.02,430.50 L246.00,430.50" fill="none" stroke="#999" stroke-width="0.6" stroke-linejoin="round"/>
<text x="157.3" y="450.6" font-family='"Liberation Serif", serif' font-size="12.8" font-weight="bold" text-anchor="start" fill="#111" stroke="#111" stroke-width="0.25">IgG</text>
<text x="77.2" y="378.2" font-family='"Liberation Serif", serif' font-size="12.5" font-weight="bold" text-anchor="middle" fill="#111" transform="rotate(-90 77.2 378.2)" stroke="#111" stroke-width="0.25">Counts</text>
<text x="364.5" y="328" font-family='"Liberation Serif", serif' font-size="11" font-weight="bold" text-anchor="start" fill="#111" stroke="#111" stroke-width="0.25">RBC</text>
<line x1="294.9" y1="336.2" x2="294.9" y2="437.2" stroke="#b0b0b0" stroke-width="1.6"/>
<line x1="291.9" y1="437.2" x2="458" y2="437.2" stroke="#7a7a7a" stroke-width="1"/>
<rect x="293.7" y="438.8" width="2.4" height="1.4" fill="#c0c0c0"/>
<rect x="334.8" y="438.8" width="2.4" height="1.4" fill="#c0c0c0"/>
<rect x="374.8" y="438.8" width="2.4" height="1.4" fill="#c0c0c0"/>
<rect x="415.3" y="438.8" width="2.4" height="1.4" fill="#c0c0c0"/>
<rect x="456.8" y="438.8" width="2.4" height="1.4" fill="#c0c0c0"/>
<rect x="291.59999999999997" y="334.7" width="1.3" height="3.5" fill="#888"/>
<path d="M299.20,437.00 L299.78,436.72 L300.35,436.44 L300.87,436.53 L301.38,435.31 L302.06,436.15 L302.74,434.87 L303.38,435.16 L304.03,434.66 L304.93,434.55 L305.84,431.62 L306.74,430.73 L307.64,427.65 L308.31,427.72 L308.99,424.98 L309.86,424.20 L310.74,418.07 L311.50,417.08 L312.27,412.76 L312.77,413.94 L313.27,408.45 L313.84,409.14 L314.41,402.47 L314.97,404.37 L315.53,397.30 L316.16,397.48 L316.78,391.04 L317.43,391.03 L318.07,383.46 L318.66,384.01 L319.25,378.84 L320.09,381.50 L320.92,373.26 L321.62,375.91 L322.32,370.30 L323.05,372.07 L323.79,367.48 L324.46,371.97 L325.14,365.24 L325.81,367.91 L326.49,363.32 L327.33,368.68 L328.17,365.40 L328.78,373.71 L329.39,371.09 L330.02,377.75 L330.66,375.12 L331.53,381.31 L332.39,383.24 L333.12,390.03 L333.85,392.96 L334.47,401.32 L335.10,401.71 L335.95,410.86 L336.81,410.93 L337.64,416.89 L338.47,418.52 L339.08,424.08 L339.70,423.52 L340.46,427.59 L341.22,428.53 L341.72,431.47 L342.22,430.54 L342.75,432.60 L343.28,431.94 L343.94,434.48 L344.61,434.04 L345.14,436.58 L345.68,435.00 L346.22,436.11 L346.76,435.65 L347.47,436.69 L348.18,435.57 L348.77,436.20 L349.35,436.34 L350.08,436.51 L350.81,436.68 L351.35,436.80 L351.89,436.93 L352.59,437.01 L353.30,437.01 L354.04,437.02 L354.77,437.03 L355.30,437.04 L355.82,437.05 L356.48,437.05 L357.14,437.06 L357.67,437.07 L358.19,437.08 L358.86,437.09 L359.54,437.09 L360.00,437.10 L360.00,437.10 L359.54,437.09 L358.86,437.09 L358.19,437.08 L357.67,437.07 L357.14,437.06 L356.48,437.05 L355.82,437.05 L355.30,437.04 L354.77,437.03 L354.04,437.02 L353.30,437.01 L352.59,437.01 L351.89,437.00 L351.35,437.00 L350.81,437.00 L350.08,437.00 L349.35,437.00 L348.77,437.00 L348.18,437.00 L347.47,437.00 L346.76,437.00 L346.22,437.00 L345.68,437.00 L345.14,437.00 L344.61,437.00 L343.94,437.00 L343.28,437.00 L342.75,437.00 L342.22,437.00 L341.72,436.75 L341.22,435.13 L340.46,432.66 L339.70,430.20 L339.08,428.21 L338.47,426.22 L337.64,422.93 L336.81,419.58 L335.95,416.14 L335.10,412.70 L334.47,409.88 L333.85,407.00 L333.12,403.66 L332.39,400.32 L331.53,396.32 L330.66,392.82 L330.02,390.29 L329.39,387.76 L328.78,385.33 L328.17,384.17 L327.33,383.33 L326.49,382.49 L325.81,382.50 L325.14,382.78 L324.46,383.06 L323.79,383.34 L323.05,384.56 L322.32,386.78 L321.62,388.89 L320.92,391.01 L320.09,393.53 L319.25,397.10 L318.66,399.72 L318.07,402.33 L317.43,405.19 L316.78,408.04 L316.16,410.81 L315.53,413.59 L314.97,415.88 L314.41,418.05 L313.84,420.24 L313.27,422.44 L312.77,424.37 L312.27,426.31 L311.50,429.26 L310.74,432.21 L309.86,435.60 L308.99,437.00 L308.31,437.00 L307.64,437.00 L306.74,437.00 L305.84,437.00 L304.93,437.00 L304.03,437.00 L303.38,437.00 L302.74,437.00 L302.06,437.00 L301.38,437.00 L300.87,437.00 L300.35,437.00 L299.78,437.00 L299.20,437.00 Z" fill="#7a7a7a" stroke="none"/>
<path d="M309.50,437.20 L315.30,414.60 L320.00,393.80 L323.40,383.50 L326.30,382.30 L328.60,384.60 L331.50,396.20 L335.00,412.30 L338.40,426.00 L341.80,437.20 L341.80,437.2 L309.50,437.2 Z" fill="#8e8e8e" stroke="none" stroke-width="0.7" stroke-linejoin="round"/>
<path d="M299.20,437.00 L300.25,436.86 L300.88,436.95 L301.94,435.81 L303.07,435.83 L303.74,436.81 L304.68,436.30 L305.32,436.07 L305.90,433.21 L306.71,430.34 L307.68,429.83 L308.43,433.48 L309.28,435.02 L310.27,431.76 L311.21,428.67 L312.38,414.58 L313.46,412.33 L314.55,412.25 L315.68,399.06 L316.49,404.42 L317.71,398.35 L318.28,393.62 L318.90,390.12 L320.01,378.32 L321.22,384.09 L321.94,374.48 L322.81,382.10 L323.76,369.36 L324.32,368.30" fill="none" stroke="#111" stroke-width="0.6" opacity="0.9" stroke-linejoin="round"/>
<path d="M299.20,437.00 L300.14,436.67 L301.17,436.39 L301.82,436.79 L302.75,436.41 L303.87,436.78 L304.42,435.30 L305.07,435.46 L306.23,435.65 L306.80,431.25 L307.93,433.61 L308.75,430.71 L309.41,434.44 L310.23,431.92 L311.21,418.02 L311.99,416.75 L313.17,416.83 L313.74,408.75 L314.54,409.27 L315.50,403.87 L316.29,394.13 L317.25,394.22 L317.80,393.48 L319.05,380.95 L319.70,388.81 L320.43,379.82 L321.33,377.20 L322.28,378.78 L323.51,382.58 L324.08,375.66" fill="none" stroke="#111" stroke-width="0.6" opacity="0.9" stroke-linejoin="round"/>
<path d="M299.20,437.00 L300.30,436.79 L301.29,436.34 L302.04,436.67 L303.21,436.79 L304.24,435.27 L305.33,435.94 L306.23,434.76 L307.02,433.43 L307.86,428.14 L308.64,429.23 L309.89,428.31 L310.70,422.16 L311.40,420.72 L312.04,413.87 L313.21,414.89 L314.07,412.71 L314.83,403.73 L315.42,402.97 L316.18,405.74 L317.11,404.70 L317.90,400.85 L318.86,382.30 L319.53,388.01 L320.78,380.23 L321.88,378.34 L323.04,370.11 L323.93,380.95" fill="none" stroke="#111" stroke-width="0.6" opacity="0.9" stroke-linejoin="round"/>
<path d="M327.40,367.24 L327.96,367.73 L328.69,379.45 L329.39,377.64 L330.07,383.37 L331.23,388.50 L331.91,392.94 L333.15,396.89 L333.75,403.23 L334.92,404.77 L335.55,406.65 L336.48,416.85 L337.48,421.35 L338.17,420.01 L339.25,426.32 L340.09,429.28 L340.87,428.40 L341.71,430.47 L342.70,433.33 L343.59,435.24 L344.32,435.31 L344.87,436.73 L345.81,436.91 L346.40,436.44 L347.46,436.24 L348.06,436.18 L348.71,436.78 L349.31,436.85 L350.16,436.77 L351.12,436.88 L352.13,436.99 L352.91,437.01 L353.64,437.02 L354.73,437.03 L355.49,437.04 L356.73,437.06 L357.47,437.07 L358.69,437.08 L359.24,437.09" fill="none" stroke="#111" stroke-width="0.6" opacity="0.9" stroke-linejoin="round"/>
<path d="M327.40,377.74 L328.20,383.10 L328.91,381.19 L329.51,372.31 L330.15,375.05 L331.05,386.28 L331.72,395.36 L332.52,386.68 L333.19,399.18 L334.39,399.16 L334.95,409.37 L335.67,414.36 L336.57,415.33 L337.36,419.93 L338.23,420.23 L339.42,423.62 L340.49,427.11 L341.49,432.21 L342.65,431.87 L343.60,434.52 L344.80,436.76 L345.79,435.83 L346.51,436.01 L347.37,436.13 L348.05,436.73 L349.05,436.48 L350.31,436.65 L351.26,436.81 L352.42,437.00 L353.15,437.01 L354.29,437.03 L355.07,437.04 L356.25,437.05 L357.28,437.07 L358.15,437.08 L359.32,437.09" fill="none" stroke="#111" stroke-width="0.6" opacity="0.9" stroke-linejoin="round"/>
<path d="M327.40,369.33 L328.50,381.42 L329.17,383.98 L330.43,379.84 L330.99,378.83 L332.23,382.89 L333.42,391.94 L334.49,399.17 L335.16,409.38 L335.76,409.04 L336.96,417.65 L338.14,424.43 L338.70,421.66 L339.81,428.42 L340.38,429.25 L341.09,431.23 L341.70,430.30 L342.95,433.50 L344.13,434.08 L345.02,435.25 L345.87,435.78 L346.90,435.94 L347.97,436.49 L348.59,436.44 L349.49,436.92 L350.28,436.65 L351.52,436.97 L352.58,437.00 L353.25,437.01 L353.84,437.02 L354.75,437.03 L355.69,437.04 L356.24,437.05 L357.25,437.06 L358.18,437.08 L359.43,437.09" fill="none" stroke="#111" stroke-width="0.6" opacity="0.9" stroke-linejoin="round"/>
<path d="M299.20,437.00 L299.95,436.64 L300.70,436.27 L301.42,437.20 L302.13,435.28 L302.87,435.47 L303.62,434.09 L304.18,435.89 L304.74,434.13 L305.60,433.26 L306.45,430.69 L307.07,430.79 L307.68,427.29 L308.27,427.49 L308.85,424.80 L309.67,424.75 L310.50,419.87 L311.41,417.85 L312.33,412.17 L313.37,409.73 L314.41,402.72 L315.15,401.78 L315.89,395.83 L316.75,393.72 L317.60,386.32 L318.42,384.68 L319.24,379.24 L320.24,378.76 L321.23,372.90 L322.02,372.94 L322.81,368.85 L323.62,370.94 L324.44,365.69 L325.11,367.89 L325.79,363.98 L326.66,367.50 L327.52,361.92 L328.10,368.55 L328.68,367.64 L329.30,372.83 L329.92,373.23 L330.65,379.18 L331.38,378.05 L331.99,384.34 L332.59,384.15 L333.36,391.84 L334.14,394.72 L334.77,402.14 L335.40,403.73 L336.08,408.98 L336.75,410.94 L337.32,415.09 L337.89,416.39 L338.54,420.45 L339.18,421.88 L339.86,425.20 L340.53,426.40 L341.51,430.61 L342.48,430.69 L343.33,432.74 L344.19,433.45 L344.93,435.34 L345.66,435.17 L346.53,436.21 L347.41,435.59 L348.24,436.38 L349.08,436.28 L350.11,436.51 L351.13,436.75 L352.04,436.96 L352.94,437.01 L353.68,437.02 L354.41,437.03 L355.29,437.04 L356.17,437.05 L356.89,437.06 L357.61,437.07 L358.20,437.08 L358.80,437.08 L359.72,437.10 L360.00,437.10" fill="none" stroke="#1a1a1a" stroke-width="0.6" stroke-linejoin="round"/>
<path d="M299.20,437.00 L299.94,436.82 L300.68,436.64 L301.50,436.45 L302.31,436.25 L303.11,437.09 L303.91,435.84 L304.75,436.31 L305.59,434.26 L306.35,435.29 L307.11,432.82 L307.91,433.47 L308.70,430.80 L309.62,430.20 L310.54,425.83 L311.36,424.73 L312.19,419.82 L312.85,418.73 L313.52,414.39 L314.12,413.62 L314.72,409.17 L315.61,407.23 L316.50,401.06 L317.39,398.63 L318.28,391.52 L319.23,390.75 L320.19,384.37 L320.99,384.48 L321.80,379.87 L322.49,380.28 L323.17,376.46 L324.00,378.14 L324.83,374.37 L325.53,377.85 L326.24,372.80 L326.92,374.50 L327.61,372.99 L328.35,378.51 L329.09,378.05 L329.82,383.89 L330.56,383.26 L331.38,388.32 L332.21,390.64 L332.97,396.74 L333.72,399.04 L334.67,406.81 L335.61,409.36 L336.45,415.85 L337.30,417.23 L338.28,422.52 L339.26,425.10 L339.84,428.10 L340.43,429.07 L341.07,432.71 L341.72,432.26 L342.52,434.64 L343.32,434.13 L343.98,435.26 L344.64,434.87 L345.30,436.34 L345.96,436.28 L346.89,436.38 L347.83,436.49 L348.85,436.61 L349.86,436.73 L350.62,436.82 L351.38,436.91 L352.26,437.00 L353.13,437.01 L353.82,437.01 L354.50,437.01 L355.50,437.02 L356.49,437.03 L357.38,437.03 L358.27,437.04 L358.90,437.04 L359.54,437.05 L360.00,437.05" fill="none" stroke="#1a1a1a" stroke-width="0.6" stroke-linejoin="round"/>
<path d="M319.5,377 L319.8,360 L320.2,377 Z M327.3,372 L327.7,357 L328.1,372 Z" fill="#666"/>
<text x="365.2" y="454.3" font-family='"Liberation Serif", serif' font-size="12.5" font-weight="bold" text-anchor="start" fill="#111" stroke="#111" stroke-width="0.25">IgG</text>
<path d="M346.00,436.60 L347.12,436.59 L348.23,436.59 L348.96,436.58 L349.68,436.58 L350.89,436.57 L352.09,436.56 L352.96,436.56 L353.84,436.55 L354.68,436.55 L355.52,436.54 L356.57,436.54 L357.62,436.53 L358.51,436.53 L359.40,436.52 L360.44,436.52 L361.47,436.51 L362.27,436.50 L363.06,436.50 L364.31,436.49 L365.55,436.48 L366.45,436.48 L367.34,436.47 L368.55,436.47 L369.75,436.46 L370.54,436.46 L371.33,436.45 L372.51,436.44 L373.69,436.44 L374.98,436.43 L376.27,436.42 L377.20,436.42 L378.14,436.41 L378.86,436.41 L379.58,436.40 L380.51,436.40 L381.43,436.41 L382.52,436.41 L383.60,436.42 L384.44,436.42 L385.27,436.43 L386.30,436.43 L387.33,436.44 L388.08,436.44 L388.84,436.44 L389.82,436.45 L390.80,436.45 L391.93,436.46 L393.07,436.47 L394.03,436.47 L394.99,436.47 L396.09,436.48 L397.20,436.49 L397.97,436.49 L398.74,436.49 L399.93,436.50 L401.13,436.51 L401.90,436.51 L402.68,436.51 L403.93,436.52 L405.19,436.53 L406.48,436.53 L407.78,436.54 L409.05,436.55 L410.31,436.55 L411.32,436.56 L412.34,436.56 L413.21,436.57 L414.09,436.57 L415.00,436.57 L415.91,436.58 L417.06,436.59 L418.21,436.59 L419.21,436.60 L420.20,436.60 L421.46,436.60 L422.72,436.60 L423.47,436.60 L424.23,436.60 L425.22,436.60 L426.21,436.60 L427.43,436.60 L428.65,436.60 L429.71,436.60 L430.77,436.60 L431.79,436.60 L432.82,436.60 L433.57,436.60 L434.32,436.60 L435.11,436.60 L435.89,436.60 L436.75,436.60 L437.61,436.60 L438.85,436.60 L440.09,436.60 L441.29,436.60 L442.50,436.60 L443.34,436.60 L444.17,436.60 L445.43,436.60 L446.68,436.60 L447.40,436.60 L448.12,436.60 L449.18,436.60 L450.24,436.60 L451.52,436.60 L452.80,436.60 L453.71,436.60 L454.61,436.60 L455.88,436.60 L457.15,436.60 L458.00,436.60" fill="none" stroke="#444" stroke-width="0.8" stroke-linejoin="round"/>
<text x="281.5" y="377" font-family='"Liberation Serif", serif' font-size="12.5" font-weight="bold" text-anchor="middle" fill="#111" transform="rotate(-90 281.5 377)" stroke="#111" stroke-width="0.25">Counts</text>
<text transform="translate(0.6 494) scale(0.9 1)" x="0" y="0" font-family='"Liberation Sans", sans-serif' font-size="21.8" font-weight="bold" fill="#000" stroke="#000" stroke-width="0.4">B</text>
<text x="58" y="487.8" font-family='"Liberation Serif", serif' font-size="11.4" font-weight="bold" text-anchor="start" fill="#111" stroke="#111" stroke-width="0.25">Thrombocytopenia in</text>
<text x="165.3" y="487.8" font-family='"Liberation Serif", serif' font-size="11.5" font-weight="bold" text-anchor="start" fill="#111" stroke="#111" stroke-width="0.25">β3<tspan font-size="7" dy="-3.8" letter-spacing="0.3">+/+</tspan><tspan dy="3.8">FcRn</tspan><tspan font-size="7" dy="-3.8">-/-</tspan></text>
<line x1="44.00" y1="514.20" x2="44.00" y2="655.00" stroke="#000" stroke-width="2"/>
<line x1="43.00" y1="654.00" x2="254.50" y2="654.00" stroke="#000" stroke-width="2"/>
<line x1="39.00" y1="654.00" x2="44.00" y2="654.00" stroke="#000" stroke-width="2"/>
<text x="38.2" y="656.8" font-family='"Liberation Serif", serif' font-size="10.8" font-weight="bold" text-anchor="end" fill="#111" letter-spacing="0.8" stroke="#111" stroke-width="0.25">0</text>
<line x1="39.00" y1="619.17" x2="44.00" y2="619.17" stroke="#000" stroke-width="2"/>
<text x="38.2" y="621.9749999999999" font-family='"Liberation Serif", serif' font-size="10.8" font-weight="bold" text-anchor="end" fill="#111" letter-spacing="0.8" stroke="#111" stroke-width="0.25">200</text>
<line x1="39.00" y1="584.35" x2="44.00" y2="584.35" stroke="#000" stroke-width="2"/>
<text x="38.2" y="587.15" font-family='"Liberation Serif", serif' font-size="10.8" font-weight="bold" text-anchor="end" fill="#111" letter-spacing="0.8" stroke="#111" stroke-width="0.25">400</text>
<line x1="39.00" y1="549.52" x2="44.00" y2="549.52" stroke="#000" stroke-width="2"/>
<text x="38.2" y="552.3249999999999" font-family='"Liberation Serif", serif' font-size="10.8" font-weight="bold" text-anchor="end" fill="#111" letter-spacing="0.8" stroke="#111" stroke-width="0.25">600</text>
<line x1="39.00" y1="514.70" x2="44.00" y2="514.70" stroke="#000" stroke-width="2"/>
<text x="38.2" y="517.5" font-family='"Liberation Serif", serif' font-size="10.8" font-weight="bold" text-anchor="end" fill="#111" letter-spacing="0.8" stroke="#111" stroke-width="0.25">800</text>
<line x1="44.00" y1="654.00" x2="44.00" y2="658.00" stroke="#000" stroke-width="2"/>
<text x="44.4" y="670.2" font-family='"Liberation Serif", serif' font-size="10.8" font-weight="bold" text-anchor="middle" fill="#111" letter-spacing="0.8" stroke="#111" stroke-width="0.25">0</text>
<line x1="85.90" y1="654.00" x2="85.90" y2="658.00" stroke="#000" stroke-width="2"/>
<text x="86.30000000000001" y="670.2" font-family='"Liberation Serif", serif' font-size="10.8" font-weight="bold" text-anchor="middle" fill="#111" letter-spacing="0.8" stroke="#111" stroke-width="0.25">1</text>
<line x1="127.80" y1="654.00" x2="127.80" y2="658.00" stroke="#000" stroke-width="2"/>
<text x="128.2" y="670.2" font-family='"Liberation Serif", serif' font-size="10.8" font-weight="bold" text-anchor="middle" fill="#111" letter-spacing="0.8" stroke="#111" stroke-width="0.25">2</text>
<line x1="169.70" y1="654.00" x2="169.70" y2="658.00" stroke="#000" stroke-width="2"/>
<text x="170.1" y="670.2" font-family='"Liberation Serif", serif' font-size="10.8" font-weight="bold" text-anchor="middle" fill="#111" letter-spacing="0.8" stroke="#111" stroke-width="0.25">3</text>
<line x1="211.60" y1="654.00" x2="211.60" y2="658.00" stroke="#000" stroke-width="2"/>
<text x="212.0" y="670.2" font-family='"Liberation Serif", serif' font-size="10.8" font-weight="bold" text-anchor="middle" fill="#111" letter-spacing="0.8" stroke="#111" stroke-width="0.25">4</text>
<line x1="253.50" y1="654.00" x2="253.50" y2="658.00" stroke="#000" stroke-width="2"/>
<text x="253.9" y="670.2" font-family='"Liberation Serif", serif' font-size="10.8" font-weight="bold" text-anchor="middle" fill="#111" letter-spacing="0.8" stroke="#111" stroke-width="0.25">5</text>
<text x="148" y="685.9" font-family='"Liberation Serif", serif' font-size="11.4" font-weight="bold" text-anchor="middle" fill="#111" stroke="#111" stroke-width="0.25">Days</text>
<text x="12.5" y="581" font-family='"Liberation Serif", serif' font-size="12" font-weight="bold" text-anchor="middle" fill="#111" transform="rotate(-90 12.5 581)" stroke="#111" stroke-width="0.25">Platelet count (x10<tspan font-size="7.5" dy="-4">9</tspan><tspan dy="4">/L)</tspan></text>
<polyline points="85.90,556.49 127.80,552.31 169.70,557.53 211.60,560.49" fill="none" stroke="#000" stroke-width="2" stroke-linejoin="miter"/>
<polyline points="85.90,561.71 127.80,636.94 169.70,626.14 211.60,596.02" fill="none" stroke="#000" stroke-width="2" stroke-linejoin="miter"/>
<polyline points="85.90,563.46 127.80,645.82 169.70,634.85 211.60,596.02" fill="none" stroke="#000" stroke-width="2" stroke-linejoin="miter"/>
<line x1="85.90" y1="550.40" x2="85.90" y2="562.58" stroke="#000" stroke-width="1.9"/>
<line x1="82.70" y1="550.40" x2="89.10" y2="550.40" stroke="#000" stroke-width="1.9"/>
<line x1="82.70" y1="562.58" x2="89.10" y2="562.58" stroke="#000" stroke-width="1.9"/>
<rect x="82.90" y="553.49" width="6" height="6" fill="#000"/>
<line x1="127.80" y1="536.47" x2="127.80" y2="568.16" stroke="#000" stroke-width="1.9"/>
<line x1="124.60" y1="536.47" x2="131.00" y2="536.47" stroke="#000" stroke-width="1.9"/>
<line x1="124.60" y1="568.16" x2="131.00" y2="568.16" stroke="#000" stroke-width="1.9"/>
<rect x="124.80" y="549.31" width="6" height="6" fill="#000"/>
<line x1="169.70" y1="551.44" x2="169.70" y2="563.63" stroke="#000" stroke-width="1.9"/>
<line x1="166.50" y1="551.44" x2="172.90" y2="551.44" stroke="#000" stroke-width="1.9"/>
<line x1="166.50" y1="563.63" x2="172.90" y2="563.63" stroke="#000" stroke-width="1.9"/>
<rect x="166.70" y="554.53" width="6" height="6" fill="#000"/>
<line x1="211.60" y1="554.40" x2="211.60" y2="566.59" stroke="#000" stroke-width="1.9"/>
<line x1="208.40" y1="554.40" x2="214.80" y2="554.40" stroke="#000" stroke-width="1.9"/>
<line x1="208.40" y1="566.59" x2="214.80" y2="566.59" stroke="#000" stroke-width="1.9"/>
<rect x="208.60" y="557.49" width="6" height="6" fill="#000"/>
<polygon points="85.90,558.20 82.65,564.05 89.15,564.05" fill="#000"/>
<line x1="127.80" y1="633.80" x2="127.80" y2="640.07" stroke="#000" stroke-width="1.9"/>
<line x1="124.60" y1="633.80" x2="131.00" y2="633.80" stroke="#000" stroke-width="1.9"/>
<line x1="124.60" y1="640.07" x2="131.00" y2="640.07" stroke="#000" stroke-width="1.9"/>
<polygon points="127.80,633.43 124.55,639.28 131.05,639.28" fill="#000"/>
<line x1="169.70" y1="620.39" x2="169.70" y2="631.89" stroke="#000" stroke-width="1.9"/>
<line x1="166.50" y1="620.39" x2="172.90" y2="620.39" stroke="#000" stroke-width="1.9"/>
<line x1="166.50" y1="631.89" x2="172.90" y2="631.89" stroke="#000" stroke-width="1.9"/>
<polygon points="169.70,622.63 166.45,628.48 172.95,628.48" fill="#000"/>
<polygon points="85.90,566.97 82.65,561.12 89.15,561.12" fill="#000"/>
<polygon points="127.80,649.33 124.55,643.48 131.05,643.48" fill="#000"/>
<polygon points="169.70,638.36 166.45,632.51 172.95,632.51" fill="#000"/>
<polygon points="208.30,591.02 214.90,591.02 211.60,596.02 214.90,601.02 208.30,601.02 211.60,596.02" fill="#000"/>
<line x1="85.90" y1="556.49" x2="85.90" y2="566.07" stroke="#000" stroke-width="1.9"/>
<line x1="82.70" y1="556.49" x2="89.10" y2="556.49" stroke="#000" stroke-width="1.9"/>
<line x1="82.70" y1="566.07" x2="89.10" y2="566.07" stroke="#000" stroke-width="1.9"/>
<line x1="211.60" y1="590.97" x2="211.60" y2="601.24" stroke="#000" stroke-width="1.9"/>
<line x1="208.40" y1="590.97" x2="214.80" y2="590.97" stroke="#000" stroke-width="1.9"/>
<line x1="208.40" y1="601.24" x2="214.80" y2="601.24" stroke="#000" stroke-width="1.9"/>
<text transform="translate(280.4 494) scale(0.9 1)" x="0" y="0" font-family='"Liberation Sans", sans-serif' font-size="21.8" font-weight="bold" fill="#000" stroke="#000" stroke-width="0.4">C</text>
<text x="357" y="487.8" font-family='"Liberation Serif", serif' font-size="11.5" font-weight="bold" text-anchor="start" fill="#111" stroke="#111" stroke-width="0.25">Anti-β3 integrin sera</text>
<line x1="316.75" y1="526.00" x2="316.75" y2="658.50" stroke="#222" stroke-width="1.9"/>
<line x1="315.75" y1="657.50" x2="515.75" y2="657.50" stroke="#222" stroke-width="1.9"/>
<line x1="311.75" y1="657.50" x2="316.75" y2="657.50" stroke="#222" stroke-width="1.9"/>
<text x="311" y="660.9" font-family='"Liberation Serif", serif' font-size="11" font-weight="bold" text-anchor="end" fill="#111" letter-spacing="0.3" stroke="#111" stroke-width="0.25">0</text>
<line x1="311.75" y1="630.30" x2="316.75" y2="630.30" stroke="#222" stroke-width="1.9"/>
<text x="311" y="633.6999999999999" font-family='"Liberation Serif", serif' font-size="11" font-weight="bold" text-anchor="end" fill="#111" letter-spacing="0.3" stroke="#111" stroke-width="0.25">25</text>
<line x1="311.75" y1="603.10" x2="316.75" y2="603.10" stroke="#222" stroke-width="1.9"/>
<text x="311" y="606.5" font-family='"Liberation Serif", serif' font-size="11" font-weight="bold" text-anchor="end" fill="#111" letter-spacing="0.3" stroke="#111" stroke-width="0.25">50</text>
<line x1="311.75" y1="575.90" x2="316.75" y2="575.90" stroke="#222" stroke-width="1.9"/>
<text x="311" y="579.3" font-family='"Liberation Serif", serif' font-size="11" font-weight="bold" text-anchor="end" fill="#111" letter-spacing="0.3" stroke="#111" stroke-width="0.25">75</text>
<line x1="311.75" y1="548.70" x2="316.75" y2="548.70" stroke="#222" stroke-width="1.9"/>
<text x="311" y="552.1" font-family='"Liberation Serif", serif' font-size="11" font-weight="bold" text-anchor="end" fill="#111" letter-spacing="0.3" stroke="#111" stroke-width="0.25">100</text>
<line x1="316.75" y1="657.50" x2="316.75" y2="661.50" stroke="#222" stroke-width="1.9"/>
<text x="316.75" y="672.6" font-family='"Liberation Serif", serif' font-size="11" font-weight="bold" text-anchor="middle" fill="#111" letter-spacing="0.3" stroke="#111" stroke-width="0.25">0</text>
<line x1="349.75" y1="657.50" x2="349.75" y2="661.50" stroke="#222" stroke-width="1.9"/>
<text x="349.75" y="672.6" font-family='"Liberation Serif", serif' font-size="11" font-weight="bold" text-anchor="middle" fill="#111" letter-spacing="0.3" stroke="#111" stroke-width="0.25">2</text>
<line x1="382.75" y1="657.50" x2="382.75" y2="661.50" stroke="#222" stroke-width="1.9"/>
<text x="382.75" y="672.6" font-family='"Liberation Serif", serif' font-size="11" font-weight="bold" text-anchor="middle" fill="#111" letter-spacing="0.3" stroke="#111" stroke-width="0.25">4</text>
<line x1="415.75" y1="657.50" x2="415.75" y2="661.50" stroke="#222" stroke-width="1.9"/>
<text x="415.75" y="672.6" font-family='"Liberation Serif", serif' font-size="11" font-weight="bold" text-anchor="middle" fill="#111" letter-spacing="0.3" stroke="#111" stroke-width="0.25">6</text>
<line x1="448.75" y1="657.50" x2="448.75" y2="661.50" stroke="#222" stroke-width="1.9"/>
<text x="448.75" y="672.6" font-family='"Liberation Serif", serif' font-size="11" font-weight="bold" text-anchor="middle" fill="#111" letter-spacing="0.3" stroke="#111" stroke-width="0.25">8</text>
<line x1="481.75" y1="657.50" x2="481.75" y2="661.50" stroke="#222" stroke-width="1.9"/>
<text x="481.75" y="672.6" font-family='"Liberation Serif", serif' font-size="11" font-weight="bold" text-anchor="middle" fill="#111" letter-spacing="0.3" stroke="#111" stroke-width="0.25">10</text>
<line x1="514.75" y1="657.50" x2="514.75" y2="661.50" stroke="#222" stroke-width="1.9"/>
<text x="514.75" y="672.6" font-family='"Liberation Serif", serif' font-size="11" font-weight="bold" text-anchor="middle" fill="#111" letter-spacing="0.3" stroke="#111" stroke-width="0.25">12</text>
<text x="415.2" y="686.8" font-family='"Liberation Serif", serif' font-size="10.7" font-weight="bold" text-anchor="middle" fill="#111" stroke="#111" stroke-width="0.25">days</text>
<text x="287.6" y="591.6" font-family='"Liberation Serif", serif' font-size="11.3" font-weight="bold" text-anchor="middle" fill="#111" transform="rotate(-90 287.6 591.6)" stroke="#111" stroke-width="0.25">Anti-β3 integrin IgG remaining <tspan letter-spacing="1.2">(%)</tspan></text>
<polyline points="333.25,548.70 349.75,573.72 366.25,584.17 415.75,609.63 481.75,616.16" fill="none" stroke="#000" stroke-width="1.8" stroke-linejoin="miter"/>
<polyline points="333.25,548.70 349.75,617.24 366.25,647.71 415.75,656.41 481.75,657.50" fill="none" stroke="#000" stroke-width="1.8" stroke-linejoin="miter"/>
<circle cx="333.25" cy="548.70" r="2.9" fill="#000"/>
<line x1="349.75" y1="566.76" x2="349.75" y2="580.69" stroke="#000" stroke-width="2.1"/>
<line x1="346.40" y1="566.76" x2="353.10" y2="566.76" stroke="#000" stroke-width="2.1"/>
<line x1="346.40" y1="580.69" x2="353.10" y2="580.69" stroke="#000" stroke-width="2.1"/>
<circle cx="349.75" cy="573.72" r="2.9" fill="#000"/>
<line x1="366.25" y1="571.98" x2="366.25" y2="596.35" stroke="#000" stroke-width="2.1"/>
<line x1="362.90" y1="571.98" x2="369.60" y2="571.98" stroke="#000" stroke-width="2.1"/>
<line x1="362.90" y1="596.35" x2="369.60" y2="596.35" stroke="#000" stroke-width="2.1"/>
<circle cx="366.25" cy="584.17" r="2.9" fill="#000"/>
<line x1="415.75" y1="606.36" x2="415.75" y2="612.89" stroke="#000" stroke-width="2.1"/>
<line x1="412.40" y1="606.36" x2="419.10" y2="606.36" stroke="#000" stroke-width="2.1"/>
<line x1="412.40" y1="612.89" x2="419.10" y2="612.89" stroke="#000" stroke-width="2.1"/>
<circle cx="415.75" cy="609.63" r="2.9" fill="#000"/>
<line x1="481.75" y1="609.08" x2="481.75" y2="623.23" stroke="#000" stroke-width="2.1"/>
<line x1="478.40" y1="609.08" x2="485.10" y2="609.08" stroke="#000" stroke-width="2.1"/>
<line x1="478.40" y1="623.23" x2="485.10" y2="623.23" stroke="#000" stroke-width="2.1"/>
<circle cx="481.75" cy="616.16" r="2.9" fill="#000"/>
<rect x="330.50" y="545.95" width="5.5" height="5.5" fill="#000"/>
<line x1="349.75" y1="611.80" x2="349.75" y2="622.68" stroke="#000" stroke-width="2.1"/>
<line x1="346.40" y1="611.80" x2="353.10" y2="611.80" stroke="#000" stroke-width="2.1"/>
<line x1="346.40" y1="622.68" x2="353.10" y2="622.68" stroke="#000" stroke-width="2.1"/>
<rect x="347.00" y="614.49" width="5.5" height="5.5" fill="#000"/>
<rect x="363.50" y="644.96" width="5.5" height="5.5" fill="#000"/>
<rect x="413.00" y="653.66" width="5.5" height="5.5" fill="#000"/>
<rect x="479.00" y="654.75" width="5.5" height="5.5" fill="#000"/>
<text x="430" y="584" font-family='"Liberation Serif", serif' font-size="11.5" font-weight="normal" text-anchor="start" fill="#444">β3<tspan font-size="6.5" dy="-4" fill="#666" letter-spacing="0.6">-/-</tspan><tspan dy="4">FcRn</tspan><tspan font-size="6.5" dy="-4" fill="#aaa" letter-spacing="1">+/+</tspan></text>
<text x="396" y="639" font-family='"Liberation Serif", serif' font-size="11.5" font-weight="normal" text-anchor="start" fill="#444">β3<tspan font-size="6.5" dy="-4" fill="#666" letter-spacing="0.6">-/-</tspan><tspan dy="4">FcRn</tspan><tspan font-size="6.5" dy="-4" fill="#888" letter-spacing="0.6">-/-</tspan></text>
<text transform="translate(0.6 727.2) scale(0.9 1)" x="0" y="0" font-family='"Liberation Sans", sans-serif' font-size="21.5" font-weight="bold" fill="#000" stroke="#000" stroke-width="0.4">D</text>
<text x="136.8" y="721.5" font-family='"Liberation Serif", serif' font-size="11" font-weight="bold" text-anchor="middle" fill="#111" stroke="#111" stroke-width="0.25">IVIG</text>
<line x1="43.50" y1="742.70" x2="43.50" y2="880.90" stroke="#000" stroke-width="2"/>
<line x1="42.50" y1="879.90" x2="249.94" y2="879.90" stroke="#000" stroke-width="2"/>
<line x1="38.50" y1="879.90" x2="43.50" y2="879.90" stroke="#000" stroke-width="2"/>
<text x="37.2" y="883.3" font-family='"Liberation Sans", sans-serif' font-size="11.8" font-weight="normal" text-anchor="end" fill="#000" stroke="#000" stroke-width="0.3">0</text>
<line x1="38.50" y1="811.80" x2="43.50" y2="811.80" stroke="#000" stroke-width="2"/>
<text x="37.2" y="815.1999999999999" font-family='"Liberation Sans", sans-serif' font-size="11.8" font-weight="normal" text-anchor="end" fill="#000" stroke="#000" stroke-width="0.3">50</text>
<line x1="38.50" y1="743.70" x2="43.50" y2="743.70" stroke="#000" stroke-width="2"/>
<text x="37.2" y="747.1" font-family='"Liberation Sans", sans-serif' font-size="11.8" font-weight="normal" text-anchor="end" fill="#000" stroke="#000" stroke-width="0.3">100</text>
<line x1="43.50" y1="879.90" x2="43.50" y2="883.90" stroke="#000" stroke-width="2"/>
<text x="43.9" y="896" font-family='"Liberation Serif", serif' font-size="10.8" font-weight="bold" text-anchor="middle" fill="#111" letter-spacing="0.8" stroke="#111" stroke-width="0.25">0</text>
<line x1="77.74" y1="879.90" x2="77.74" y2="883.90" stroke="#000" stroke-width="2"/>
<text x="78.14000000000001" y="896" font-family='"Liberation Serif", serif' font-size="10.8" font-weight="bold" text-anchor="middle" fill="#111" letter-spacing="0.8" stroke="#111" stroke-width="0.25">2</text>
<line x1="111.98" y1="879.90" x2="111.98" y2="883.90" stroke="#000" stroke-width="2"/>
<text x="112.38000000000001" y="896" font-family='"Liberation Serif", serif' font-size="10.8" font-weight="bold" text-anchor="middle" fill="#111" letter-spacing="0.8" stroke="#111" stroke-width="0.25">4</text>
<line x1="146.22" y1="879.90" x2="146.22" y2="883.90" stroke="#000" stroke-width="2"/>
<text x="146.62" y="896" font-family='"Liberation Serif", serif' font-size="10.8" font-weight="bold" text-anchor="middle" fill="#111" letter-spacing="0.8" stroke="#111" stroke-width="0.25">6</text>
<line x1="180.46" y1="879.90" x2="180.46" y2="883.90" stroke="#000" stroke-width="2"/>
<text x="180.86" y="896" font-family='"Liberation Serif", serif' font-size="10.8" font-weight="bold" text-anchor="middle" fill="#111" letter-spacing="0.8" stroke="#111" stroke-width="0.25">8</text>
<line x1="214.70" y1="879.90" x2="214.70" y2="883.90" stroke="#000" stroke-width="2"/>
<text x="215.10000000000002" y="896" font-family='"Liberation Serif", serif' font-size="10.8" font-weight="bold" text-anchor="middle" fill="#111" letter-spacing="0.8" stroke="#111" stroke-width="0.25">10</text>
<line x1="248.94" y1="879.90" x2="248.94" y2="883.90" stroke="#000" stroke-width="2"/>
<text x="249.34" y="896" font-family='"Liberation Serif", serif' font-size="10.8" font-weight="bold" text-anchor="middle" fill="#111" letter-spacing="0.8" stroke="#111" stroke-width="0.25">12</text>
<text x="145.7" y="912" font-family='"Liberation Serif", serif' font-size="11" font-weight="bold" text-anchor="middle" fill="#111" stroke="#111" stroke-width="0.25">days</text>
<text x="10.4" y="809.8" font-family='"Liberation Serif", serif' font-size="11.5" font-weight="bold" text-anchor="middle" fill="#111" transform="rotate(-90 10.4 809.8)" stroke="#111" stroke-width="0.25">Human IVIG remaining (%)</text>
<polyline points="60.62,743.70 77.74,785.92 94.86,804.99 146.22,819.70 214.70,846.39" fill="none" stroke="#000" stroke-width="2" stroke-linejoin="miter"/>
<polyline points="60.62,743.70 77.74,819.97 94.86,851.98 146.22,877.18 214.70,879.90" fill="none" stroke="#000" stroke-width="2" stroke-linejoin="miter"/>
<circle cx="60.62" cy="743.70" r="2.9" fill="#000"/>
<line x1="77.74" y1="775.71" x2="77.74" y2="796.14" stroke="#000" stroke-width="1.8"/>
<line x1="74.74" y1="775.71" x2="80.74" y2="775.71" stroke="#000" stroke-width="1.8"/>
<line x1="74.74" y1="796.14" x2="80.74" y2="796.14" stroke="#000" stroke-width="1.8"/>
<circle cx="77.74" cy="785.92" r="2.9" fill="#000"/>
<line x1="94.86" y1="791.37" x2="94.86" y2="818.61" stroke="#000" stroke-width="1.8"/>
<line x1="91.86" y1="791.37" x2="97.86" y2="791.37" stroke="#000" stroke-width="1.8"/>
<line x1="91.86" y1="818.61" x2="97.86" y2="818.61" stroke="#000" stroke-width="1.8"/>
<circle cx="94.86" cy="804.99" r="2.9" fill="#000"/>
<line x1="146.22" y1="806.76" x2="146.22" y2="832.64" stroke="#000" stroke-width="1.8"/>
<line x1="143.22" y1="806.76" x2="149.22" y2="806.76" stroke="#000" stroke-width="1.8"/>
<line x1="143.22" y1="832.64" x2="149.22" y2="832.64" stroke="#000" stroke-width="1.8"/>
<circle cx="146.22" cy="819.70" r="2.9" fill="#000"/>
<line x1="214.70" y1="841.36" x2="214.70" y2="851.43" stroke="#000" stroke-width="1.8"/>
<line x1="211.70" y1="841.36" x2="217.70" y2="841.36" stroke="#000" stroke-width="1.8"/>
<line x1="211.70" y1="851.43" x2="217.70" y2="851.43" stroke="#000" stroke-width="1.8"/>
<circle cx="214.70" cy="846.39" r="2.9" fill="#000"/>
<rect x="57.87" y="740.95" width="5.5" height="5.5" fill="#000"/>
<line x1="77.74" y1="807.71" x2="77.74" y2="832.23" stroke="#000" stroke-width="1.8"/>
<line x1="74.74" y1="807.71" x2="80.74" y2="807.71" stroke="#000" stroke-width="1.8"/>
<line x1="74.74" y1="832.23" x2="80.74" y2="832.23" stroke="#000" stroke-width="1.8"/>
<rect x="74.99" y="817.22" width="5.5" height="5.5" fill="#000"/>
<line x1="94.86" y1="847.21" x2="94.86" y2="856.75" stroke="#000" stroke-width="1.8"/>
<line x1="91.86" y1="847.21" x2="97.86" y2="847.21" stroke="#000" stroke-width="1.8"/>
<line x1="91.86" y1="856.75" x2="97.86" y2="856.75" stroke="#000" stroke-width="1.8"/>
<rect x="92.11" y="849.23" width="5.5" height="5.5" fill="#000"/>
<rect x="143.47" y="874.43" width="5.5" height="5.5" fill="#000"/>
<rect x="211.95" y="877.15" width="5.5" height="5.5" fill="#000"/>
<text x="117.6" y="796.4" font-family='"Liberation Sans", sans-serif' font-size="10.2" font-weight="normal" text-anchor="start" fill="#222" stroke="#222" stroke-width="0.15">β3-/-FcRn+/+</text>
<text x="120.8" y="854" font-family='"Liberation Sans", sans-serif' font-size="10.2" font-weight="normal" text-anchor="start" fill="#222" stroke="#222" stroke-width="0.15">β3-/-FcRn-/-</text>
</svg>
</body></html>
